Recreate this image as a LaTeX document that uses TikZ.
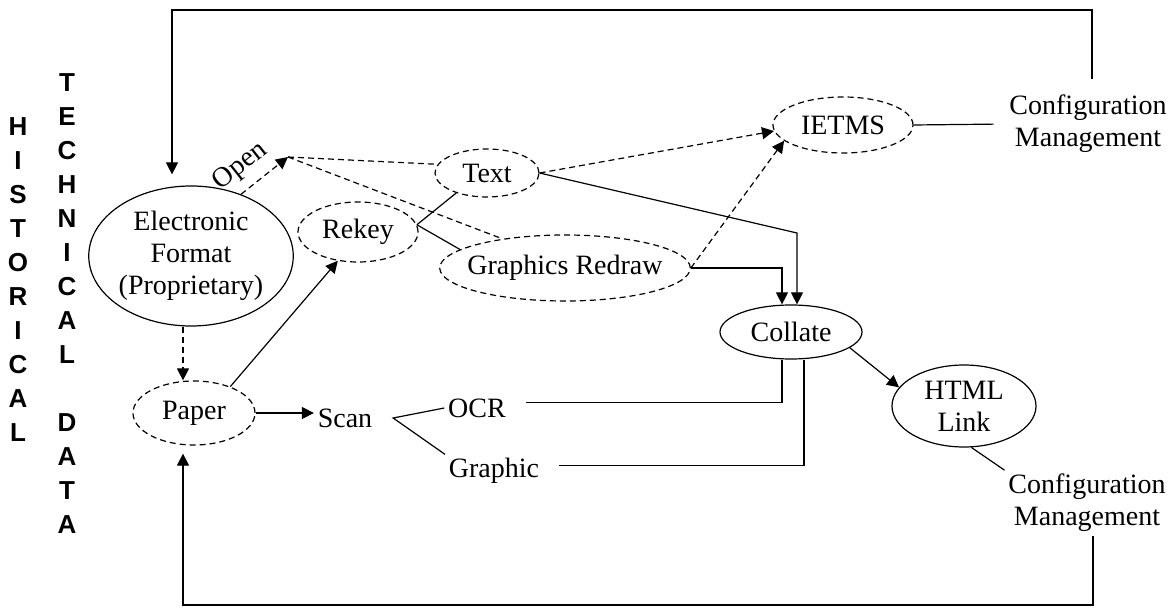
\documentclass[tikz,border=0pt]{standalone}
\usepackage{fontspec}
\setmainfont{Liberation Serif}
\newfontfamily\stackfont{Liberation Sans}
\usetikzlibrary{shapes.geometric, arrows.meta, calc}

\begin{document}
\begin{tikzpicture}[x=1pt, y=-1pt, line width=1.2pt,
    every node/.style={font=\fontsize{28}{32}\selectfont},
    solidell/.style={ellipse, draw, inner sep=0pt, align=center},
    dashell/.style={solidell, dash pattern=on 6pt off 4pt},
    plain/.style={align=center},
    stack/.style={align=center, font=\stackfont\bfseries\fontsize{26}{34}\selectfont},
    arr/.style={-{Triangle[length=12pt,width=12pt]}},
    dasharr/.style={arr, dash pattern=on 6pt off 4pt},
    dashline/.style={dash pattern=on 6pt off 4pt}]
    \useasboundingbox (0,0) rectangle (1170,609);

    % side titles
    \node[stack] (hist) at (18,280) {H\\I\\S\\T\\O\\R\\I\\C\\A\\L};
    \node[stack] (tech) at (67,304) {T\\E\\C\\H\\N\\I\\C\\A\\L\\[34pt]D\\A\\T\\A};

    % sources
    \node[solidell, minimum width=204pt, minimum height=140pt] (efmt) at (191,256) {Electronic\\Format\\(Proprietary)};
    \node[dashell, minimum width=122pt, minimum height=64pt] (paper) at (194,413) {Paper};

    % conversion
    \node[dashell, minimum width=120pt, minimum height=60pt] (rekey) at (358,232) {Rekey};
    \node[dashell, minimum width=104pt, minimum height=48pt] (txt) at (487,173) {Text};
    \node[dashell, inner xsep=-9pt, minimum height=66pt] (gredraw) at (565,268) {Graphics Redraw};
    \node[plain] (scan) at (345,418) {Scan};
    \node[plain] (ocr) at (477,408) {OCR};
    \node[plain] (graphic) at (494,471) {Graphic};

    % products
    \node[dashell, minimum width=140pt, minimum height=56pt] (ietms) at (843,125) {IETMS};
    \node[solidell, minimum width=142pt, minimum height=54pt] (collate) at (791,332) {Collate};
    \node[solidell, minimum width=144pt, minimum height=82pt] (html) at (964,406) {HTML\\Link};
    \node[plain] (cmtop) at (1088,124) {Configuration\\Management};
    \node[plain] (cmbot) at (1087,503) {Configuration\\Management};

    % bends
    \coordinate (topturn) at (172,10);
    \coordinate (botturn) at (183,605);
    \coordinate (openpt) at (288,157);
    \coordinate (tbend) at (797,233);
    \coordinate (fork) at ($(scan.east)+(17pt,0)$);

    % feedback loops
    \draw[arr, shorten <=12pt, shorten >=11pt] ([xshift=4pt]cmtop.north) |- (topturn) -- (topturn |- efmt.north);
    \draw[arr, shorten >=8pt] ([xshift=6pt]cmbot.south) |- (botturn) -- (botturn |- paper.south);

    % electronic / paper
    \draw[dasharr] ([xshift=-8pt]efmt.south) -- ([xshift=-8pt]efmt.south |- paper.north);
    \draw[dasharr] (efmt.51) -- node[sloped, above=6pt, pos=0.28] (openlbl) {Open} (openpt);
    \draw[dashline] (openpt) -- (txt.170);
    \draw[dashline] (openpt) -- (gredraw.155);
    \draw[arr] (paper.36) -- (rekey.235);
    \draw (rekey.7) -- (txt.213);
    \draw (rekey.7) -- (gredraw.170);

    % scanning
    \draw[arr] (paper.east) -- (paper.east -| scan.west);
    \draw (ocr.west) -- (fork) -- (graphic.north west);
    \draw[shorten <=16pt] (ocr.10) -| ([xshift=-9pt]collate.south);
    \draw[shorten <=16pt] (graphic.6) -| ([xshift=13pt]collate.south);

    % into collate and IETMS
    \draw[arr] (txt.east) -- (tbend) -- (tbend |- collate.north);
    \draw[arr] (gredraw.east) -| ([xshift=-9pt]collate.north);
    \draw[dasharr] (txt.east) -- (ietms.185);
    \draw[dasharr] (gredraw.east) -- (ietms.195);
    \draw[shorten >=12pt] (ietms.east) -- (cmtop.west);
    \draw[arr] (collate.-15) -- (html.164);
    \draw (html.-80) -- (cmbot.north west);
\end{tikzpicture}
\end{document}
